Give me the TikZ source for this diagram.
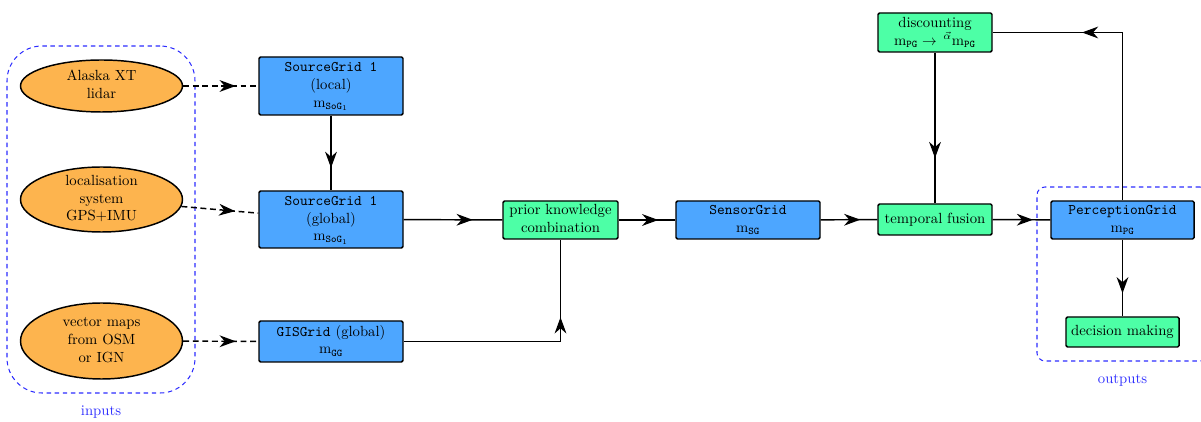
\documentclass[tikz,border=0pt]{standalone}
\usetikzlibrary{arrows.meta,decorations.markings,shapes.geometric}
\definecolor{ellorange}{RGB}{253,180,78}
\definecolor{gridblue}{RGB}{77,166,255}
\definecolor{procgreen}{RGB}{77,255,166}
\definecolor{groupblue}{RGB}{45,45,255}
\newcommand\pxu{0.68pt}
\newcommand\ctext[1]{\vbox to 0pt{\vss\hbox{\begin{tabular}{@{}c@{}}#1\end{tabular}}\vss}}
\newcommand\mm[1]{\ensuremath{\mathrm{m}_{#1}}}
\begin{document}
\begin{tikzpicture}[x=0.68pt,y=-0.68pt,
  sensor/.style={ellipse, draw, line width=1pt, fill=ellorange, inner sep=0pt, minimum width=162*\pxu},
  gridbox/.style={rectangle, draw, line width=1pt, rounded corners=1pt, fill=gridblue, inner sep=0pt, minimum width=144*\pxu},
  procbox/.style={rectangle, draw, line width=1pt, rounded corners=1pt, fill=procgreen, inner sep=0pt},
  groupbox/.style={draw=groupblue, line width=0.7pt, dash pattern=on 3pt off 2.5pt, inner sep=0pt},
  grouplabel/.style={text=groupblue, inner sep=1pt},
  flow/.style={line width=1pt, postaction={decorate}, decoration={markings, mark=at position 0.7 with {\arrow{Stealth[length=11pt,width=8pt,inset=3.5pt]}}}},
  dflow/.style={flow, dash pattern=on 4pt off 2.5pt}
]
\useasboundingbox (0,0) rectangle (1201,422);

% groups
\node[groupbox, rounded corners=35*\pxu, minimum width=188*\pxu, minimum height=347*\pxu] (inbox) at (101,219.5) {};
\node[grouplabel] (inlabel) at (101,412) {inputs};
\node[groupbox, rounded corners=8*\pxu, minimum width=171*\pxu, minimum height=174*\pxu] (outbox) at (1122.5,274) {};
\node[grouplabel] (outlabel) at (1122.5,380) {outputs};

% inputs
\node[sensor, minimum height=52*\pxu] (e1) at (101.5,86) {\ctext{Alaska XT\\lidar}};
\node[sensor, minimum height=65*\pxu] (e2) at (101.5,199.5) {\ctext{localisation\\system\\GPS+IMU}};
\node[sensor, minimum height=76*\pxu] (e3) at (101.5,341) {\ctext{vector maps\\from OSM\\or IGN}};

% grids
\node[gridbox, minimum height=58*\pxu] (sgl) at (331,86) {\ctext{\texttt{SourceGrid 1}\\(local)\\\mm{\mathtt{SoG}_1}}};
\node[gridbox, minimum height=57*\pxu] (sgg) at (331,219.5) {\ctext{\texttt{SourceGrid 1}\\(global)\\\mm{\mathtt{SoG}_1}}};
\node[gridbox, minimum height=41*\pxu] (gis) at (331,341.5) {\ctext{\texttt{GISGrid} (global)\\\mm{\mathtt{GG}}}};
\node[gridbox, minimum height=38*\pxu] (sensor) at (748,220) {\ctext{\texttt{SensorGrid}\\\mm{\mathtt{SG}}}};
\node[gridbox, minimum width=143*\pxu, minimum height=38*\pxu] (pg) at (1122.5,220) {\ctext{\texttt{PerceptionGrid}\\\mm{\mathtt{PG}}}};

% processes
\node[procbox, minimum width=115*\pxu, minimum height=38*\pxu] (prior) at (560.5,220) {\ctext{prior knowledge\\combination}};
\node[procbox, minimum width=114*\pxu, minimum height=31*\pxu] (temporal) at (935,219.5) {\ctext{temporal fusion}};
\node[procbox, minimum width=114*\pxu, minimum height=39*\pxu] (disc) at (935,32.5) {\ctext{discounting\\$\mathrm{m}_{\mathtt{PG}}\rightarrow\,{}^{\vec{\alpha}}\mathrm{m}_{\mathtt{PG}}$}};
\node[procbox, minimum width=113*\pxu, minimum height=30*\pxu] (decision) at (1122.5,332) {\ctext{decision making}};

% connectors
\draw[dflow] (e1) -- (sgl);
\draw[dflow] (e2) -- (sgg);
\draw[dflow] (e3) -- (gis);
\draw[flow] (sgl) -- (sgg);
\draw[flow] (sgg) -- (prior);
\draw[flow] (gis) -| (prior);
\draw[flow] (prior) -- (sensor);
\draw[flow] (sensor) -- (temporal);
\draw[flow] (temporal) -- (pg);
\draw[flow] (pg) -- (decision);
\draw[flow] (pg) |- (disc);
\draw[flow] (disc) -- (temporal);
\end{tikzpicture}
\end{document}
